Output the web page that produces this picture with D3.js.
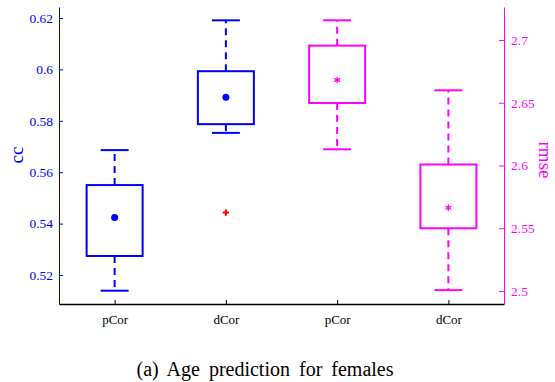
<!DOCTYPE html>
<html>
<head>
<meta charset="utf-8">
<script src="https://cdn.jsdelivr.net/npm/d3@7"></script>
<style>
  body { margin: 0; background: #fff; }
  svg text { font-family: "Liberation Serif", "Times New Roman", serif; }
</style>
</head>
<body>
<svg id="chart"></svg>
<script>
// categories along the x axis
const categories = ["pCor", "dCor", "pCor", "dCor"];
// which y axis each box belongs to
const boxAxis = ["cc", "cc", "rmse", "rmse"];
// box stats
const whiskerLow = [0.5139, 0.5753, 2.6129, 2.5007];
const q1 = [0.5274, 0.5787, 2.6498, 2.5500];
const q3 = [0.5550, 0.5993, 2.6955, 2.6008];
const whiskerHigh = [0.5686, 0.6191, 2.7157, 2.6599];
const means = [0.5424, 0.5892, 2.6681, 2.5663];
// outliers: [box index, value]
const outliers = [[1, 0.5443]];

const ccTicks = [0.52, 0.54, 0.56, 0.58, 0.6, 0.62];
const rmseTicks = [2.5, 2.55, 2.6, 2.65, 2.7];

const width = 555;
const height = 382;
const marginLeft = 59;
const marginRight = 51;
const marginTop = 7;
const marginBottom = 78;

const blue = "#0000ff";
const magenta = "#ff00ff";

const svg = d3.select("svg#chart")
  .attr("width", width)
  .attr("height", height)
  .attr("viewBox", [0, 0, width, height]);

const x = d3.scaleLinear([0.5, 4.5], [marginLeft, width - marginRight]);
const yCC = d3.scaleLinear([0.50872, 0.62428], [height - marginBottom, marginTop]);
const yRMSE = d3.scaleLinear([2.48964, 2.72629], [height - marginBottom, marginTop]);

function yFor(i) { return boxAxis[i] === "cc" ? yCC : yRMSE; }
function colorFor(i) { return boxAxis[i] === "cc" ? blue : magenta; }

// bottom axis
svg.append("g")
  .attr("transform", `translate(0,${height - marginBottom})`)
  .call(d3.axisBottom(x).tickValues([1, 2, 3, 4]).tickSize(-4).tickSizeOuter(0)
    .tickFormat((d, i) => categories[i]).tickPadding(11))
  .attr("font-family", null)
  .call(g => g.select(".domain").attr("stroke", "#000").attr("stroke-width", 1.3))
  .call(g => g.selectAll("text").attr("font-size", 13).attr("fill", "#000"));

// left axis
svg.append("g")
  .attr("transform", `translate(${marginLeft},0)`)
  .call(d3.axisLeft(yCC).tickValues(ccTicks).tickSize(-4).tickSizeOuter(0)
    .tickFormat(d3.format("~g")).tickPadding(6))
  .attr("font-family", null)
  .call(g => g.select(".domain").attr("stroke", blue))
  .call(g => g.selectAll(".tick line").attr("stroke", blue))
  .call(g => g.selectAll("text").attr("font-size", 13.5).attr("fill", blue));

svg.append("text")
  .attr("transform", `translate(23,155) rotate(-90)`)
  .attr("text-anchor", "middle")
  .attr("fill", blue)
  .attr("font-size", 19)
  .text("cc");

// right axis
svg.append("g")
  .attr("transform", `translate(${width - marginRight},0)`)
  .call(d3.axisRight(yRMSE).tickValues(rmseTicks).tickSize(-5).tickSizeOuter(0)
    .tickFormat(d3.format("~g")).tickPadding(7))
  .attr("font-family", null)
  .call(g => g.select(".domain").attr("stroke", magenta))
  .call(g => g.selectAll(".tick line").attr("stroke", magenta))
  .call(g => g.selectAll("text").attr("font-size", 13.5).attr("fill", magenta));

svg.append("text")
  .attr("transform", `translate(539,160) rotate(90)`)
  .attr("text-anchor", "middle")
  .attr("fill", magenta)
  .attr("font-size", 19)
  .text("rmse");

// boxes
const boxW = 56;
const capW = 28;
const boxes = svg.append("g");
for (let i = 0; i < categories.length; i++) {
  const y = yFor(i);
  const c = colorFor(i);
  const cx = x(i + 1);
  const g = boxes.append("g").attr("stroke", c).attr("stroke-width", 2).attr("fill", "none");

  // whiskers
  g.append("line").attr("x1", cx).attr("x2", cx)
    .attr("y1", y(q3[i])).attr("y2", y(whiskerHigh[i]))
    .attr("stroke-dasharray", "7,5");
  g.append("line").attr("x1", cx).attr("x2", cx)
    .attr("y1", y(q1[i])).attr("y2", y(whiskerLow[i]))
    .attr("stroke-dasharray", "7,5");
  // caps
  g.append("line").attr("x1", cx - capW / 2).attr("x2", cx + capW / 2)
    .attr("y1", y(whiskerHigh[i])).attr("y2", y(whiskerHigh[i]));
  g.append("line").attr("x1", cx - capW / 2).attr("x2", cx + capW / 2)
    .attr("y1", y(whiskerLow[i])).attr("y2", y(whiskerLow[i]));
  // box
  g.append("rect")
    .attr("x", cx - boxW / 2).attr("width", boxW)
    .attr("y", y(q3[i])).attr("height", y(q1[i]) - y(q3[i]));

  // mean marker
  if (boxAxis[i] === "cc") {
    boxes.append("circle").attr("cx", cx).attr("cy", y(means[i]))
      .attr("r", 3.5).attr("fill", c);
  } else {
    boxes.append("path")
      .attr("transform", `translate(${cx},${y(means[i])})`)
      .attr("d", d3.symbol(d3.symbolAsterisk, 30)())
      .attr("fill", "none").attr("stroke", c).attr("stroke-width", 1.3);
  }
}

// outliers
for (const [i, v] of outliers) {
  boxes.append("path")
    .attr("transform", `translate(${x(i + 1)},${yFor(i)(v)})`)
    .attr("d", d3.symbol(d3.symbolCross, 22)())
    .attr("fill", "#ff0000");
}

// caption
svg.append("text")
  .attr("x", 265)
  .attr("y", 376)
  .attr("text-anchor", "middle")
  .attr("font-size", 20)
  .attr("word-spacing", 4)
  .attr("fill", "#000")
  .text("(a)  Age prediction for females");
</script>
</body>
</html>
